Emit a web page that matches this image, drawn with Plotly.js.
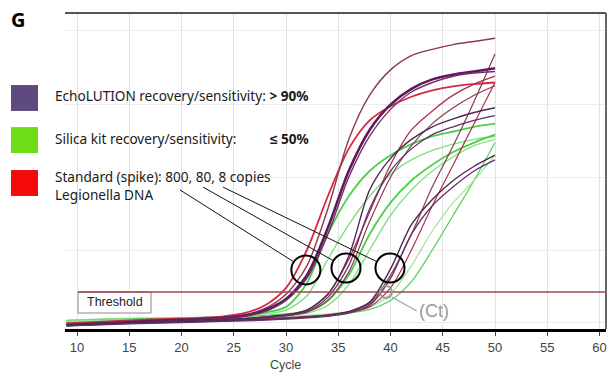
<!DOCTYPE html>
<html><head><meta charset="utf-8">
<script src="https://cdn.plot.ly/plotly-3.0.1.min.js"></script>
<style>html,body{margin:0;padding:0;background:#fff;}#chart{width:607px;height:374px;}</style>
</head><body><div id="chart"></div>
<script>
// Cycle sample points (x) shared by all curves
const cycles = [9, 13, 17, 21, 24, 26, 28, 30, 32, 34, 36, 38, 40, 42, 44, 46, 48, 50];
const xTicks = [10, 15, 20, 25, 30, 35, 40, 45, 50, 55, 60];
const thresholdLevel = 11.7;

// 800 copies
const echo800a = [1.5, 2.2, 2.8, 3.2, 3.8, 4.5, 6.5, 11, 20, 38, 60, 74, 82, 86.5, 88.5, 90, 91, 92];
const echo800b = [1.2, 1.8, 2.5, 3.0, 3.5, 4.2, 6, 9.5, 17, 32, 50, 63, 71, 76, 79, 80.5, 81.5, 82.5];
const echo800c = [1.0, 1.6, 2.3, 2.8, 3.3, 4.0, 5.5, 9, 16, 30, 48, 61, 69.5, 75, 78, 80, 81, 81.5];
const std800   = [1.8, 2.4, 3.0, 3.4, 4.0, 5.0, 7.5, 13, 25, 42, 57, 66, 70.5, 73.5, 75.5, 76.8, 77.5, 78];
const silica800a = [2.6, 3.0, 3.3, 3.5, 3.8, 4.3, 5.2, 7, 14.5, 30, 42, 50, 55, 58.5, 61, 62.5, 64, 65];
const silica800b = [2.8, 3.2, 3.4, 3.6, 3.9, 4.2, 4.8, 6, 10.5, 22, 33, 42, 49, 53.5, 56.5, 58.5, 60, 61];
// 80 copies
const echo80a = [1.3, 1.8, 2.3, 2.7, 3.0, 3.3, 3.8, 4.5, 6, 11, 23, 44, 54, 60, 64, 66.5, 68.5, 70];
const echo80b = [1.1, 1.6, 2.1, 2.5, 2.8, 3.1, 3.5, 4.2, 5.5, 10, 20, 38, 50, 57, 61.5, 64, 66, 67.5];
const std80a  = [1.6, 2.0, 2.4, 2.7, 3.0, 3.3, 3.8, 4.5, 6, 11, 22, 37, 52, 63, 69, 74, 77.5, 80];
const std80b  = [1.4, 1.9, 2.3, 2.6, 2.9, 3.2, 3.6, 4.2, 5.3, 9, 18, 34, 48, 58, 65, 70, 74, 77];
const silica80a = [2.4, 2.8, 3.1, 3.3, 3.5, 3.8, 4.2, 4.7, 5.5, 9, 17, 30, 40, 47, 52, 56, 59, 61.5];
const silica80b = [2.2, 2.6, 2.9, 3.1, 3.3, 3.6, 4.0, 4.4, 5.0, 7.5, 14, 25, 36, 44, 50, 54.5, 58, 60];
// 8 copies
const echo8a = [1.2, 1.6, 2.0, 2.3, 2.6, 2.8, 3.0, 3.3, 3.7, 4.3, 5.5, 8.5, 19, 33, 41, 47, 51.5, 55];
const echo8b = [1.0, 1.4, 1.8, 2.1, 2.4, 2.6, 2.8, 3.1, 3.5, 4.0, 5.0, 7.5, 16, 30, 39, 45, 50, 53.5];
const std8a  = [1.5, 1.9, 2.2, 2.5, 2.7, 2.9, 3.1, 3.4, 3.8, 4.4, 5.5, 8, 17, 30, 45, 58, 72, 87];
const std8b  = [1.7, 2.1, 2.4, 2.7, 2.9, 3.1, 3.3, 3.6, 4.0, 4.5, 5.3, 7, 13, 25, 39, 52, 65, 78];
const silica8a = [2.0, 2.4, 2.7, 2.9, 3.1, 3.3, 3.5, 3.7, 4.0, 4.4, 5.0, 6.2, 9, 15, 25, 36, 47, 59];
const silica8b = [2.5, 2.8, 3.0, 3.2, 3.4, 3.6, 3.8, 4.0, 4.3, 4.8, 5.5, 7, 11, 20, 31, 40, 47, 55];

const series = [
  {y: silica800a, c: '#4cd04c', w: 1.8},
  {y: silica800b, c: '#7ee07e', w: 1.4},
  {y: silica80a, c: '#4cd04c', w: 1.8},
  {y: silica80b, c: '#86e286', w: 1.4},
  {y: silica8a, c: '#5ccf5c', w: 1.3},
  {y: silica8b, c: '#9be69b', w: 1.2},
  {y: std800, c: '#d42a48', w: 1.8},
  {y: std80a, c: '#b0304a', w: 1.3},
  {y: std80b, c: '#8a3b4b', w: 1.2},
  {y: std8a, c: '#8a3b4b', w: 1.2},
  {y: std8b, c: '#b03048', w: 1.2},
  {y: echo800a, c: '#8a3b4b', w: 1.4},
  {y: echo800b, c: '#5e1a5a', w: 2.6},
  {y: echo800c, c: '#7a2a6a', w: 1.4},
  {y: echo80a, c: '#4e2658', w: 1.4},
  {y: echo80b, c: '#62306a', w: 1.3},
  {y: echo8a, c: '#4e2658', w: 1.4},
  {y: echo8b, c: '#5e3468', w: 1.3}
];

const traces = series.map(s => ({
  x: cycles, y: s.y, type: 'scatter', mode: 'lines',
  line: {color: s.c, width: s.w, shape: 'spline', smoothing: 0.8},
  hoverinfo: 'skip', showlegend: false
}));

function circle(cx, cy, rx, ry, color, w) {
  return {type: 'circle', xref: 'x', yref: 'y', x0: cx - rx, x1: cx + rx, y0: cy - ry, y1: cy + ry,
          line: {color: color, width: w}};
}
function pline(x0, y0, x1, y1, color, w, ref) {
  return {type: 'line', xref: ref || 'x', yref: ref || 'y', x0: x0, y0: y0, x1: x1, y1: y1,
          line: {color: color, width: w}};
}

const shapes = [
  {type: 'rect', xref: 'x', yref: 'y', x0: 10.1, x1: 17.08, y0: 5.06, y1: thresholdLevel,
   line: {color: '#8a8a8a', width: 1}, fillcolor: 'rgba(255,255,255,0.9)', layer: 'above'},
  pline(10.1, thresholdLevel, 60.62, thresholdLevel, '#a0454a', 1.5),
  circle(31.9, 18.7, 1.39, 4.59, '#000', 2),
  circle(35.74, 19.3, 1.39, 4.59, '#000', 2),
  circle(39.95, 19.3, 1.39, 4.59, '#000', 2),
  circle(39.57, 11.7, 0.57, 1.9, '#9a9a9a', 2),
  pline(40.14, 10.1, 42.5, 5.7, '#aaaaaa', 1.3),
  pline(19.86, 44.0, 30.77, 21.2, '#111', 1),
  pline(22.06, 44.9, 34.54, 21.6, '#111', 1),
  pline(23.97, 44.9, 38.70, 21.3, '#111', 1),
  pline(0, 1, 1, 1, '#555', 2, 'paper'),
  pline(1, 0, 1, 1, '#666', 2, 'paper'),
  {type: 'rect', xref: 'paper', yref: 'paper', x0: -0.0998, x1: -0.0499, y0: 0.690, y1: 0.772,
   fillcolor: '#5e4a7e', line: {width: 0}},
  {type: 'rect', xref: 'paper', yref: 'paper', x0: -0.0998, x1: -0.0499, y0: 0.557, y1: 0.639,
   fillcolor: '#6edc16', line: {width: 0}},
  {type: 'rect', xref: 'paper', yref: 'paper', x0: -0.0998, x1: -0.0499, y0: 0.421, y1: 0.503,
   fillcolor: '#f40a0a', line: {width: 0}}
];

const lf = {family: 'Noto Sans, sans-serif', size: 13.6, color: '#1a1a1a'};
const annotations = [
  {xref: 'paper', yref: 'paper', x: -0.1035, y: 0.981, xanchor: 'left', yanchor: 'middle',
   text: '<b>G</b>', showarrow: false, font: {family: 'Noto Sans, sans-serif', size: 20, color: '#000'}},
  {xref: 'paper', yref: 'paper', x: -0.0222, y: 0.7405, xanchor: 'left', yanchor: 'middle',
   text: 'EchoLUTION recovery/sensitivity: <b>> 90%</b>', showarrow: false, font: lf},
  {xref: 'paper', yref: 'paper', x: -0.0222, y: 0.6044, xanchor: 'left', yanchor: 'middle',
   text: 'Silica kit recovery/sensitivity:', showarrow: false, font: lf},
  {xref: 'paper', yref: 'paper', x: 0.3752, y: 0.6044, xanchor: 'left', yanchor: 'middle',
   text: '<b>≤ 50%</b>', showarrow: false, font: lf},
  {xref: 'paper', yref: 'paper', x: -0.0222, y: 0.454, xanchor: 'left', yanchor: 'middle', align: 'left',
   text: 'Standard (spike): 800, 80, 8 copies<br>Legionella DNA', showarrow: false, font: lf},
  {xref: 'x', yref: 'y', x: 13.59, y: 8.4, xanchor: 'center', yanchor: 'middle',
   text: 'Threshold', showarrow: false, font: {family: 'Arial, Liberation Sans, sans-serif', size: 12.5, color: '#222'}},
  {xref: 'x', yref: 'y', x: 44.16, y: 5.7, xanchor: 'center', yanchor: 'middle',
   text: '(Ct)', showarrow: false, font: {family: 'Arial, Liberation Sans, sans-serif', size: 18, color: '#9a9a9a'}},
  {xref: 'paper', yref: 'paper', x: 0.4067, y: -0.115, xanchor: 'center', yanchor: 'middle',
   text: 'Cycle', showarrow: false, font: {family: 'Arial, Liberation Sans, sans-serif', size: 12.5, color: '#444'}}
];

const layout = {
  width: 607, height: 374,
  margin: {l: 65, r: 1, t: 13, b: 45},
  paper_bgcolor: '#fff', plot_bgcolor: '#fff',
  showlegend: false,
  xaxis: {range: [8.85, 60.62], tickvals: xTicks, showgrid: true, gridcolor: '#e2e2e2', gridwidth: 1,
          showline: true, linecolor: '#000', linewidth: 3, ticks: 'outside', ticklen: 4, tickcolor: '#444',
          tickfont: {family: 'Arial, Liberation Sans, sans-serif', size: 13, color: '#444'}, zeroline: false, fixedrange: true},
  yaxis: {range: [0, 100], tickvals: [2.2, 25, 47.8, 70.9, 94.6], showticklabels: false, showgrid: true,
          gridcolor: '#ececec', zeroline: false, showline: false, ticks: '', fixedrange: true},
  shapes: shapes,
  annotations: annotations
};

Plotly.newPlot('chart', traces, layout, {staticPlot: true, displayModeBar: false});
</script></body></html>
